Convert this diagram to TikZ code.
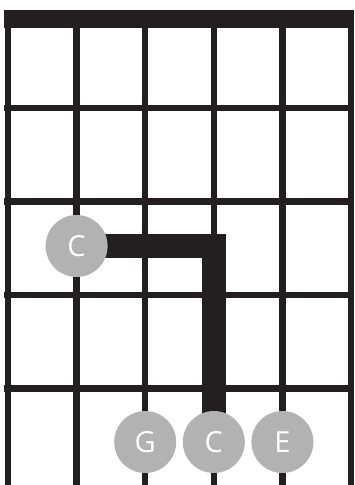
\documentclass[tikz,border=0pt]{standalone}
\usepackage{fontspec}
\setmainfont{Open Sans}
\definecolor{ink}{HTML}{231F20}
\definecolor{dotgray}{HTML}{B2B2B2}

\begin{document}
\begin{tikzpicture}[x=1pt,y=-1pt,
  wire/.style={ink,line width=6.5pt},
  fing/.style={circle,fill=dotgray,minimum size=62pt,inner sep=0pt,text=white,
               font=\fontsize{29}{29}\selectfont},
  barre/.style={ink,line width=24pt,line join=miter}]
\useasboundingbox (0,0) rectangle (354,485);
% nut
\fill[ink] (4,10) rectangle (354,28);
% strings and frets
\foreach \x in {8,76.6,145.2,213.8,282.4,351}
  \draw[wire] (\x,10) -- (\x,485);
\foreach \y in {108,201.5,295,388.5}
  \draw[wire] (4,\y) -- (354,\y);
% finger positions
\coordinate (pC3) at (76.6,246);
\coordinate (pG) at (145.2,442);
\coordinate (pC) at (213.8,442);
\coordinate (pE) at (282.4,442);
\draw[barre] (pC3) -| (pC);
\node[fing] (c3) at (pC3) {C};
\node[fing] (g) at (pG) {G};
\node[fing] (c) at (pC) {C};
\node[fing] (e) at (pE) {E};
\end{tikzpicture}
\end{document}
